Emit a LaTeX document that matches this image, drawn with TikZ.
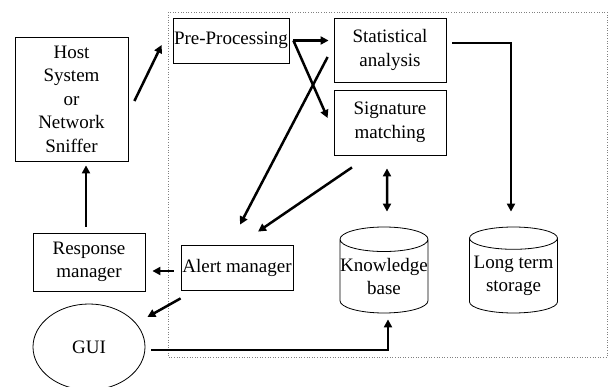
\documentclass[tikz,border=0pt]{standalone}
\usepackage{fontspec}
\setmainfont{Liberation Serif}
\usetikzlibrary{shapes.geometric,arrows.meta}

\begin{document}
\begin{tikzpicture}[x=1pt,y=-1pt,
  font=\fontsize{19}{23.5}\selectfont,
  box/.style={draw,line width=0.8pt,inner sep=1pt,align=center},
  db/.style={draw,line width=0.8pt,cylinder,shape border rotate=90,shape aspect=0.28,
    minimum width=88pt,minimum height=86pt,inner sep=0pt,align=center,anchor=shape center},
  arr/.style={line width=2.5pt,-{Triangle[length=8pt,width=8pt]}},
  dbl/.style={line width=2.5pt,{Triangle[length=8pt,width=8pt]}-{Triangle[length=8pt,width=8pt]}}]
\useasboundingbox (0,0) rectangle (611,387);
\draw[gray,dotted,line width=0.6pt] (168,12) rectangle (607,357); %IDS boundary

\node[box,minimum width=113pt,minimum height=124pt] (host) at (71.5,99) {Host\\System\\or\\Network\\Sniffer};
\node[box,minimum width=114pt,minimum height=45pt] (pre) at (231,40.5) {Pre-Processing};
\node[box,minimum width=112pt,minimum height=64pt] (stat) at (390,50) {Statistical\\analysis};
\node[box,minimum width=112pt,minimum height=65pt] (sig) at (390,122.5) {Signature\\matching};
\node[box,minimum width=112pt,minimum height=45pt] (alert) at (237,267.5) {Alert manager};
\node[box,minimum width=112pt,minimum height=58pt] (resp) at (89,262) {Response\\manager};
\node[draw,line width=0.8pt,ellipse,minimum width=112pt,minimum height=86pt,inner sep=0pt] (gui) at (89,347) {GUI};
\node[db] (kb) at (384,270) {Knowledge\\base};
\node[db] (lts) at (513.5,270) {Long term\\storage};

\draw[arr] ([xshift=6pt,yshift=-2pt]host.east) -- ([xshift=-11pt,yshift=-4.5pt]pre.west);
\draw[arr] ([xshift=4pt]pre.east) -- ([xshift=-5pt]pre.east -| stat.west);
\draw[arr] ([xshift=4pt]pre.east) -- ([xshift=-6pt,yshift=4.5pt]sig.west);
\draw[arr] ([xshift=-6pt,yshift=-7pt]stat.west) -- ([xshift=3pt,yshift=20pt]alert.north);
\draw[arr] ([xshift=-38pt,yshift=-12pt]sig.south) -- ([xshift=21pt,yshift=13pt]alert.north);
\draw[dbl] ([xshift=-3pt,yshift=-13pt]sig.south) -- ([xshift=3pt,yshift=15pt]kb.north);
\draw[arr] ([xshift=6pt,yshift=7pt]stat.east) -| ([xshift=-2.5pt,yshift=15pt]lts.north);
\draw[arr] ([xshift=-7pt,yshift=-3.5pt]alert.west) -- ([xshift=7pt,yshift=-9pt]resp.east);
\draw[arr] ([xshift=-3pt,yshift=6pt]resp.north) -- ([xshift=14.5pt,yshift=-4pt]host.south);
\draw[arr] ([yshift=-8pt]alert.south west) -- ([xshift=2pt,yshift=30pt]gui.east);
\draw[arr] ([xshift=6pt,yshift=-3pt]gui.east) -| ([xshift=4pt,yshift=-6pt]kb.south);
\end{tikzpicture}
\end{document}
